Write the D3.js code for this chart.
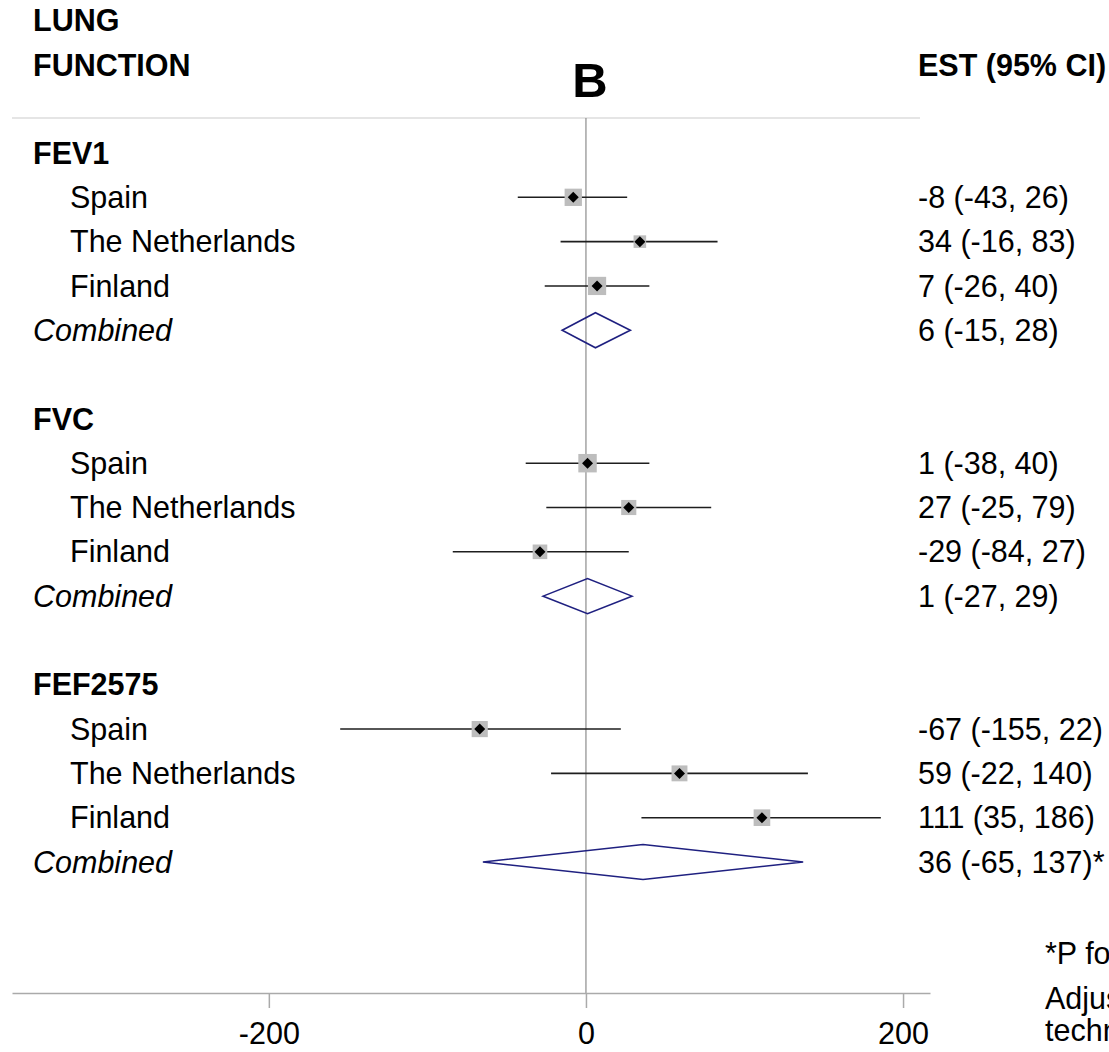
<!DOCTYPE html>
<html>
<head>
<meta charset="utf-8">
<script src="https://cdn.jsdelivr.net/npm/d3@7"></script>
<style>
  html, body { margin: 0; padding: 0; background: #fff; }
  svg { display: block; font-family: "Liberation Sans", Arial, sans-serif; }
</style>
</head>
<body>
<svg id="chart" width="1109" height="1052"></svg>
<script>
// Lung function outcomes and the cohorts pooled for each one
const outcomes = ["FEV1", "FVC", "FEF2575"];
const cohorts = ["Spain", "The Netherlands", "Finland"];

// Cohort-specific estimates with 95% confidence limits, one array per outcome
const estFEV1 = [-8, 34, 7];
const lowFEV1 = [-43, -16, -26];
const highFEV1 = [26, 83, 40];

const estFVC = [1, 27, -29];
const lowFVC = [-38, -25, -84];
const highFVC = [40, 79, 27];

const estFEF = [-67, 59, 111];
const lowFEF = [-155, -22, 35];
const highFEF = [22, 140, 186];

// Relative weight (%) of each cohort in the pooled estimate
const weightFEV1 = [38, 20, 42];
const weightFVC = [43, 29, 27];
const weightFEF = [33, 32, 35];

// Pooled (combined) estimates per outcome
const combinedEst = [6, 1, 36];
const combinedLow = [-15, -27, -65];
const combinedHigh = [28, 29, 137];
const combinedFlag = ["", "", "*"];

// Axis ticks
const tickValues = [-200, 0, 200];

const footnotes = [
  "*P for heterogeneity < 0.05",
  "Adjusted for sex, age, height, weight and smoking",
  "technician and season"
];

// ---------------------------------------------------------------------------
const est = [estFEV1, estFVC, estFEF];
const low = [lowFEV1, lowFVC, lowFEF];
const high = [highFEV1, highFVC, highFEF];
const weight = [weightFEV1, weightFVC, weightFEF];

const svg = d3.select("#chart");
const fontSize = 30.5;
const textColor = "#000";

const x = d3.scaleLinear().domain([-362, 217]).range([12, 930]);
// each outcome block occupies six rows: title, three cohorts, combined, gap
const y = d3.scaleLinear().domain([0, 16]).range([153, 862]);
const side = d3.scaleSqrt().domain([0, 100]).range([0, 28.1]);

const axisY = 993;
const topY = 118;

// Header
const header = svg.append("g").attr("font-weight", "bold").attr("font-size", fontSize).attr("fill", textColor);
header.append("text").attr("x", 33).attr("y", 20).attr("dy", "0.35em").text("LUNG");
header.append("text").attr("x", 33).attr("y", 65).attr("dy", "0.35em").text("FUNCTION");
header.append("text").attr("x", 918).attr("y", 65).attr("dy", "0.35em").text("EST (95% CI)");
svg.append("text").attr("x", x(0) + 4).attr("y", 97)
  .attr("text-anchor", "middle").attr("font-weight", "bold").attr("font-size", 49)
  .attr("fill", textColor).text("B");

// Header rule
svg.append("line").attr("x1", 12).attr("x2", 920).attr("y1", topY).attr("y2", topY)
  .attr("stroke", "#dcdcdc").attr("stroke-width", 1.5);

// Reference line at zero
svg.append("line").attr("x1", x(0)).attr("x2", x(0)).attr("y1", topY).attr("y2", axisY)
  .attr("stroke", "#8c8c8c").attr("stroke-width", 1.2);

// X axis
const axis = d3.axisBottom(x).tickValues(tickValues).tickFormat(d => String(d))
  .tickSize(15).tickSizeOuter(0).tickPadding(14);
const gAxis = svg.append("g").attr("transform", `translate(0,${axisY})`).call(axis);
gAxis.select(".domain").attr("stroke", "#aaaaaa").attr("stroke-width", 1.5);
gAxis.selectAll(".tick line").attr("stroke", "#aaaaaa").attr("stroke-width", 1.5);
gAxis.selectAll(".tick text").attr("font-size", fontSize).attr("fill", textColor)
  .attr("font-family", "Liberation Sans, Arial, sans-serif");

const fmtRow = (e, l, h, flag) => `${e} (${l}, ${h})${flag || ""}`;

outcomes.forEach((name, g) => {
  const base = g * 6;
  const block = svg.append("g");

  block.append("text").attr("x", 33).attr("y", y(base)).attr("dy", "0.35em")
    .attr("font-weight", "bold").attr("font-size", fontSize).attr("fill", textColor).text(name);

  const rows = cohorts.map((c, i) => ({
    label: c, est: est[g][i], low: low[g][i], high: high[g][i], w: weight[g][i], row: base + 1 + i
  }));

  // cohort labels
  block.selectAll("text.cohort").data(rows).join("text")
    .attr("class", "cohort")
    .attr("x", 70).attr("y", d => y(d.row)).attr("dy", "0.35em")
    .attr("font-size", fontSize).attr("fill", textColor).text(d => d.label);

  // confidence intervals
  block.selectAll("line.ci").data(rows).join("line")
    .attr("class", "ci")
    .attr("x1", d => x(d.low)).attr("x2", d => x(d.high))
    .attr("y1", d => y(d.row)).attr("y2", d => y(d.row))
    .attr("stroke", "#1e1e1e").attr("stroke-width", 1.6);

  // weight squares
  block.selectAll("rect.wt").data(rows).join("rect")
    .attr("class", "wt")
    .attr("x", d => x(d.est) - side(d.w) / 2).attr("y", d => y(d.row) - side(d.w) / 2)
    .attr("width", d => side(d.w)).attr("height", d => side(d.w))
    .attr("fill", "#bdbdbd");

  // point estimate markers
  block.selectAll("path.pt").data(rows).join("path")
    .attr("class", "pt")
    .attr("transform", d => `translate(${x(d.est)},${y(d.row)})`)
    .attr("d", "M0,-5.5L5.5,0L0,5.5L-5.5,0Z")
    .attr("fill", "#000");

  // estimate text column
  block.selectAll("text.est").data(rows).join("text")
    .attr("class", "est")
    .attr("x", 918).attr("y", d => y(d.row)).attr("dy", "0.35em")
    .attr("font-size", fontSize).attr("fill", textColor)
    .text(d => fmtRow(d.est, d.low, d.high));

  // combined estimate
  const cr = base + 4;
  const cy = y(cr);
  block.append("text").attr("x", 33).attr("y", cy).attr("dy", "0.35em")
    .attr("font-style", "italic").attr("font-size", fontSize).attr("fill", textColor).text("Combined");

  const half = 17.5;
  block.append("path")
    .attr("d", d3.line()([
      [x(combinedLow[g]), cy], [x(combinedEst[g]), cy - half],
      [x(combinedHigh[g]), cy], [x(combinedEst[g]), cy + half]
    ]) + "Z")
    .attr("fill", "none").attr("stroke", "#1f2080").attr("stroke-width", 1.6);

  block.append("text").attr("x", 918).attr("y", cy).attr("dy", "0.35em")
    .attr("font-size", fontSize).attr("fill", textColor)
    .text(fmtRow(combinedEst[g], combinedLow[g], combinedHigh[g], combinedFlag[g]));
});

// Footnotes
const noteY = [953, 998, 1030];
svg.append("g").selectAll("text").data(footnotes).join("text")
  .attr("x", 1045).attr("y", (d, i) => noteY[i]).attr("dy", "0.35em")
  .attr("font-size", fontSize).attr("fill", textColor).text(d => d);
</script>
</body>
</html>
